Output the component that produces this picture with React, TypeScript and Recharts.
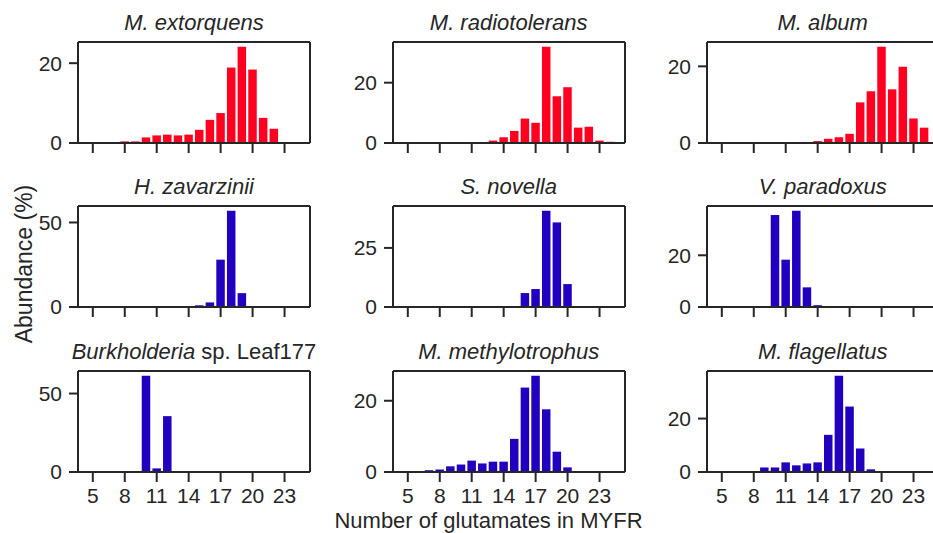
import React from 'react';
import { BarChart, Bar, XAxis, YAxis, ReferenceLine } from 'recharts';

// number of glutamates (bar positions)
const glutamates = [5, 6, 7, 8, 9, 10, 11, 12, 13, 14, 15, 16, 17, 18, 19, 20, 21, 22, 23, 24];
const xTicks = [5, 8, 11, 14, 17, 20, 23];

// abundance (%) per species, one value per glutamate count above
const extorquens = [0, 0.2, 0.2, 0.4, 0.4, 1.4, 1.9, 2.1, 1.9, 2.1, 3.3, 5.8, 7.5, 18.9, 24.1, 18.4, 6.3, 3.6, 0.25, 0];
const radiotolerans = [0, 0, 0, 0, 0, 0, 0, 0.2, 0.8, 1.9, 4.0, 8.1, 6.7, 31.9, 15.5, 18.5, 5.1, 5.4, 0.8, 0.4];
const album = [0, 0, 0, 0, 0, 0, 0, 0, 0.1, 0.5, 1.1, 1.5, 2.4, 10.6, 13.5, 25.1, 14.0, 19.9, 6.4, 4.0];
const zavarzinii = [0, 0, 0, 0, 0, 0, 0, 0, 0, 0, 1.0, 2.7, 28.0, 56.9, 8.2, 0.6, 0, 0, 0, 0];
const novella = [0, 0, 0, 0, 0, 0, 0, 0, 0, 0, 0, 5.9, 7.6, 40.7, 35.8, 9.7, 0.4, 0, 0, 0];
const paradoxus = [0, 0, 0, 0, 0, 35.6, 18.3, 37.2, 7.6, 0.7, 0, 0, 0, 0, 0, 0, 0, 0, 0, 0];
const burkholderia = [0, 0, 0, 0, 0, 61.3, 2.3, 35.6, 0, 0, 0, 0, 0, 0, 0, 0, 0, 0, 0, 0];
const methylotrophus = [0, 0, 0.5, 0.7, 1.6, 2.1, 3.2, 2.4, 2.9, 2.9, 9.3, 23.7, 27.0, 17.6, 5.7, 1.3, 0, 0, 0, 0];
const flagellatus = [0, 0, 0, 0, 1.7, 1.7, 3.6, 2.5, 3.2, 3.6, 13.9, 36.0, 24.5, 8.8, 1.0, 0, 0, 0, 0, 0];

const RED = '#ff0021';
const BLUE = '#2200bf';
const INK = '#262626';
const FONT = '"Liberation Sans", Arial, sans-serif';

const PW = 232; // plot width
const PH = 101; // plot height
const YW = 60;
const XH = 40;
const MT = 5;
const MR = 6;
const X_DOMAIN: [number, number] = [3.61, 25.39];

const colLeft = [78, 392.7, 706.7];
const rowTop = [42, 206, 371];

type PanelProps = {
  values: number[];
  color: string;
  yTicks: number[];
  col: number;
  row: number;
  showX: boolean;
};

// tiny non-zero values still show as a hairline bar
const minSize = (value: any) => (typeof value === 'number' && value > 0 ? 1 : 0);

const Panel = ({ values, color, yTicks, col, row, showX }: PanelProps) => {
  const data = glutamates.map((g, i) => ({ x: g, v: values[i] }));
  const yMax = Math.max(...values) * 1.05;
  return (
    <div style={{ position: 'absolute', left: colLeft[col] - YW, top: rowTop[row] - MT }}>
      <BarChart width={YW + PW + MR} height={MT + PH + XH} data={data}
        margin={{ top: MT, right: MR, left: 0, bottom: 0 }} barCategoryGap={0}>
        <XAxis type="number" dataKey="x" domain={X_DOMAIN} ticks={xTicks} interval={0}
          allowDataOverflow height={XH} tickSize={10} tickMargin={6}
          axisLine={{ stroke: INK, strokeWidth: 2 }} tickLine={{ stroke: INK, strokeWidth: 2 }}
          tick={showX ? { fill: INK, fontSize: 21, fontFamily: FONT } : () => <g />} />
        <YAxis type="number" domain={[0, yMax]} ticks={yTicks} interval={0}
          allowDataOverflow width={YW} tickSize={9} tickMargin={7}
          axisLine={{ stroke: INK, strokeWidth: 2 }} tickLine={{ stroke: INK, strokeWidth: 2 }}
          tick={{ fill: INK, fontSize: 21, fontFamily: FONT }} />
        <Bar dataKey="v" fill={color} barSize={8.5} minPointSize={minSize} isAnimationActive={false} />
        <ReferenceLine y={yMax} stroke={INK} strokeWidth={2} ifOverflow="visible" />
        <ReferenceLine x={X_DOMAIN[1]} stroke={INK} strokeWidth={2} ifOverflow="visible" />
      </BarChart>
    </div>
  );
};

const titleBaseline = [30, 194, 358.5];

export default function App() {
  const title = (col: number, row: number, node: React.ReactNode) => (
    <text x={colLeft[col] + PW / 2} y={titleBaseline[row]} textAnchor="middle"
      fontSize={22} fill={INK} fontFamily={FONT}>{node}</text>
  );
  return (
    <div style={{ position: 'fixed', left: 0, top: 0, width: 933, height: 533, overflow: 'hidden', background: '#fff' }}>
      <Panel values={extorquens} color={RED} yTicks={[0, 20]} col={0} row={0} showX={false} />
      <Panel values={radiotolerans} color={RED} yTicks={[0, 20]} col={1} row={0} showX={false} />
      <Panel values={album} color={RED} yTicks={[0, 20]} col={2} row={0} showX={false} />
      <Panel values={zavarzinii} color={BLUE} yTicks={[0, 50]} col={0} row={1} showX={false} />
      <Panel values={novella} color={BLUE} yTicks={[0, 25]} col={1} row={1} showX={false} />
      <Panel values={paradoxus} color={BLUE} yTicks={[0, 20]} col={2} row={1} showX={false} />
      <Panel values={burkholderia} color={BLUE} yTicks={[0, 50]} col={0} row={2} showX />
      <Panel values={methylotrophus} color={BLUE} yTicks={[0, 20]} col={1} row={2} showX />
      <Panel values={flagellatus} color={BLUE} yTicks={[0, 20]} col={2} row={2} showX />
      <svg width={933} height={533} style={{ position: 'absolute', left: 0, top: 0, pointerEvents: 'none' }}>
        {title(0, 0, <tspan fontStyle="italic">M. extorquens</tspan>)}
        {title(1, 0, <tspan fontStyle="italic">M. radiotolerans</tspan>)}
        {title(2, 0, <tspan fontStyle="italic">M. album</tspan>)}
        {title(0, 1, <tspan fontStyle="italic">H. zavarzinii</tspan>)}
        {title(1, 1, <tspan fontStyle="italic">S. novella</tspan>)}
        {title(2, 1, <tspan fontStyle="italic">V. paradoxus</tspan>)}
        {title(0, 2, <><tspan fontStyle="italic">Burkholderia</tspan><tspan> sp. Leaf177</tspan></>)}
        {title(1, 2, <tspan fontStyle="italic">M. methylotrophus</tspan>)}
        {title(2, 2, <tspan fontStyle="italic">M. flagellatus</tspan>)}
        <text x={32} y={264} transform="rotate(-90, 32, 264)" textAnchor="middle"
          fontSize={23} fill={INK} fontFamily={FONT}>Abundance (%)</text>
        <text x={488.5} y={528} textAnchor="middle" fontSize={22} fill={INK} fontFamily={FONT}>
          Number of glutamates in MYFR
        </text>
      </svg>
    </div>
  );
}
